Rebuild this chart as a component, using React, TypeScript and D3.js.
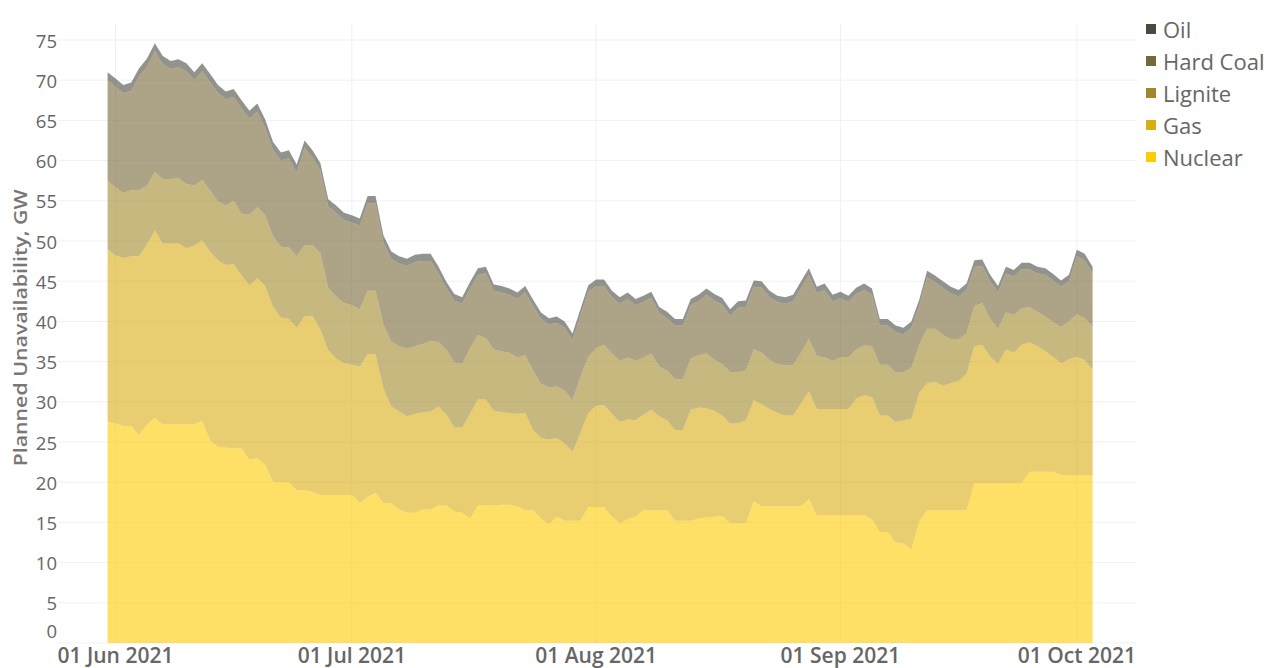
import React from "react";
import * as d3 from "d3";

const dates: Date[] = d3.timeDay.range(new Date(2021, 4, 31), new Date(2021, 9, 4));

const nuclear = [
  27.5, 27.3, 27.0, 27.0, 25.8, 27.2, 28.0, 27.2, 27.2, 27.2,
  27.2, 27.2, 27.6, 25.2, 24.4, 24.3, 24.2, 24.2, 22.8, 23.0,
  22.1, 20.0, 20.0, 20.0, 19.0, 19.0, 18.8, 18.4, 18.4, 18.4,
  18.4, 18.4, 17.4, 18.2, 18.7, 17.4, 17.4, 16.6, 16.2, 16.2,
  16.6, 16.6, 17.1, 17.1, 16.4, 16.2, 15.5, 17.1, 17.1, 17.1,
  17.2, 17.2, 17.0, 16.5, 16.5, 15.5, 14.8, 15.7, 15.2, 15.2,
  15.2, 16.9, 16.9, 16.9, 15.7, 14.9, 15.4, 15.7, 16.5, 16.5,
  16.5, 16.5, 15.2, 15.2, 15.2, 15.5, 15.6, 15.7, 15.8, 14.9,
  14.9, 14.9, 17.6, 17.0, 17.0, 17.0, 17.0, 17.0, 17.0, 17.9,
  15.9, 15.9, 15.9, 15.9, 15.9, 15.9, 15.9, 15.4, 13.8, 13.8,
  12.5, 12.4, 11.6, 15.1, 16.5, 16.5, 16.5, 16.5, 16.5, 16.5,
  19.9, 19.9, 19.9, 19.9, 19.9, 19.9, 19.9, 21.3, 21.3, 21.3,
  21.3, 20.9, 20.9, 20.9, 20.9, 20.9,
];

const gas = [
  21.5, 20.9, 20.9, 21.1, 22.3, 22.4, 23.3, 22.5, 22.5, 22.5,
  21.9, 22.2, 22.5, 23.5, 23.2, 22.7, 22.9, 21.5, 21.7, 22.4,
  22.3, 21.8, 20.5, 20.3, 20.2, 21.6, 21.9, 20.6, 18.0, 17.0,
  16.4, 16.2, 17.0, 17.7, 17.2, 14.3, 12.0, 12.2, 12.0, 12.3,
  12.1, 12.2, 12.3, 11.3, 10.4, 10.6, 13.0, 13.2, 13.2, 11.8,
  11.5, 11.4, 11.5, 12.1, 10.0, 10.0, 10.5, 9.8, 9.6, 8.6,
  10.9, 11.7, 12.6, 12.7, 12.8, 12.6, 12.4, 12.0, 11.9, 12.5,
  11.7, 11.2, 11.3, 11.3, 13.8, 13.8, 13.6, 13.2, 12.5, 12.4,
  12.4, 12.8, 12.6, 12.7, 12.1, 11.6, 11.3, 11.3, 12.8, 13.4,
  13.2, 13.2, 13.2, 13.2, 13.2, 14.5, 14.9, 15.2, 14.5, 14.5,
  15.0, 15.3, 16.3, 16.0, 15.8, 16.0, 15.5, 15.8, 16.1, 17.0,
  17.0, 17.2, 15.7, 14.8, 16.6, 16.2, 17.2, 16.1, 15.6, 15.0,
  14.3, 13.9, 14.4, 14.7, 14.3, 13.1,
];

const lignite = [
  8.5, 8.5, 8.1, 8.2, 8.2, 7.3, 7.3, 8.0, 8.0, 8.1,
  8.0, 7.5, 7.5, 7.6, 7.3, 7.4, 7.9, 7.7, 8.8, 8.8,
  8.8, 8.8, 8.8, 8.9, 8.9, 8.9, 8.8, 9.5, 7.8, 7.7,
  7.5, 7.4, 7.1, 7.9, 7.9, 7.9, 8.1, 8.1, 8.4, 8.4,
  8.5, 8.8, 8.0, 8.1, 8.1, 7.9, 8.2, 8.0, 7.6, 7.6,
  7.6, 7.5, 7.0, 7.2, 7.4, 6.7, 6.5, 6.4, 6.6, 6.4,
  7.0, 7.0, 7.2, 7.5, 7.5, 7.6, 7.7, 7.4, 7.1, 7.0,
  6.2, 6.2, 6.3, 6.3, 6.4, 6.5, 6.8, 6.3, 6.4, 6.4,
  6.4, 6.2, 6.3, 6.4, 6.1, 6.1, 6.2, 6.3, 6.3, 6.5,
  6.6, 6.4, 6.0, 6.4, 6.4, 6.1, 6.2, 6.3, 6.3, 6.3,
  6.1, 6.0, 6.3, 6.0, 6.8, 6.6, 6.3, 5.5, 5.2, 5.0,
  5.0, 5.2, 4.7, 4.4, 4.6, 4.7, 4.5, 4.4, 4.3, 4.3,
  4.3, 4.5, 4.7, 5.3, 5.2, 5.4,
];

const hardCoal = [
  12.5, 12.5, 12.4, 12.4, 14.2, 14.8, 15.0, 14.3, 13.7, 13.8,
  14.0, 13.1, 13.5, 13.5, 13.5, 13.2, 12.9, 13.1, 11.9, 11.9,
  10.9, 10.7, 10.7, 11.1, 10.4, 12.1, 10.9, 10.3, 10.1, 10.4,
  10.3, 10.3, 10.4, 10.9, 10.9, 10.2, 10.3, 10.3, 10.3, 10.5,
  10.3, 9.9, 8.6, 7.6, 7.7, 7.5, 7.4, 7.5, 8.1, 7.3,
  7.3, 7.2, 7.3, 7.8, 8.0, 8.1, 7.8, 7.9, 7.8, 7.5,
  7.6, 8.1, 7.7, 7.3, 7.0, 7.1, 7.3, 6.9, 6.9, 6.9,
  6.6, 6.5, 6.7, 6.7, 6.6, 6.7, 7.3, 7.4, 7.4, 7.0,
  8.0, 7.9, 7.8, 8.1, 7.8, 7.7, 7.7, 7.9, 8.1, 8.0,
  7.8, 8.4, 7.4, 7.4, 6.9, 6.9, 6.9, 6.4, 4.9, 4.9,
  5.1, 4.7, 5.0, 4.8, 6.4, 5.8, 5.9, 5.7, 5.3, 5.4,
  4.9, 4.6, 4.7, 4.5, 4.9, 4.8, 4.9, 4.7, 4.8, 5.2,
  5.2, 5.0, 5.0, 7.2, 7.2, 6.6,
];

const oil = [
  1.0, 1.0, 1.0, 1.0, 1.0, 1.0, 1.0, 1.0, 1.0, 1.0,
  1.0, 1.0, 1.0, 1.0, 1.0, 1.0, 1.0, 1.0, 1.0, 1.0,
  1.0, 1.0, 1.0, 1.0, 1.0, 0.9, 0.9, 0.9, 0.9, 0.9,
  0.9, 0.9, 0.9, 0.9, 0.9, 0.9, 0.9, 0.9, 0.9, 0.9,
  0.9, 0.9, 0.8, 0.8, 0.8, 0.8, 0.8, 0.8, 0.8, 0.8,
  0.8, 0.8, 0.8, 0.8, 0.8, 0.8, 0.8, 0.8, 0.8, 0.8,
  0.8, 0.8, 0.8, 0.8, 0.8, 0.8, 0.8, 0.8, 0.8, 0.8,
  0.8, 0.8, 0.8, 0.8, 0.8, 0.8, 0.8, 0.8, 0.8, 0.8,
  0.8, 0.8, 0.8, 0.8, 0.8, 0.8, 0.8, 0.8, 0.8, 0.8,
  0.8, 0.8, 0.8, 0.8, 0.8, 0.8, 0.8, 0.8, 0.8, 0.8,
  0.8, 0.8, 0.8, 0.8, 0.8, 0.8, 0.8, 0.8, 0.8, 0.8,
  0.8, 0.8, 0.8, 0.8, 0.8, 0.8, 0.8, 0.8, 0.8, 0.8,
  0.8, 0.8, 0.8, 0.8, 0.8, 0.8,
];

const seriesKeys = ["nuclear", "gas", "lignite", "hardCoal", "oil"];
const seriesNames = ["Nuclear", "Gas", "Lignite", "Hard Coal", "Oil"];
const seriesColors = ["#FFCC00", "#D9AE10", "#A0882A", "#766838", "#4B4B43"];
const yTicks = [0, 5, 10, 15, 20, 25, 30, 35, 40, 45, 50, 55, 60, 65, 70, 75];
const xTicks: Date[] = [
  new Date(2021, 5, 1), new Date(2021, 6, 1), new Date(2021, 7, 1),
  new Date(2021, 8, 1), new Date(2021, 9, 1),
];
const yTitle = "Planned Unavailability, GW";

const W = 1271;
const H = 668;
const FONT = "'Open Sans', 'DejaVu Sans', sans-serif";

export default function App() {
  const rows = dates.map((d, i) => ({
    date: d,
    nuclear: nuclear[i],
    gas: gas[i],
    lignite: lignite[i],
    hardCoal: hardCoal[i],
    oil: oil[i],
  }));
  const stacked = d3.stack<any>().keys(seriesKeys)(rows);

  const x = d3.scaleTime().domain([dates[0], dates[dates.length - 1]]).range([107.6, 1092.6]);
  const y = d3.scaleLinear().domain([0, 75]).range([643, 40]);

  const area = d3
    .area<any>()
    .x((d) => x(d.data.date))
    .y0((d) => y(d[0]))
    .y1((d) => y(d[1]))
    .curve(d3.curveLinear);

  const fmt = d3.timeFormat("%d %b %Y");
  const gridLeft = 58;
  const gridRight = 1137;

  const legendOrder = [4, 3, 2, 1, 0];

  return (
    <svg
      width={W}
      height={H}
      style={{ position: "absolute", left: 0, top: 0, background: "#fff" }}
      fontFamily={FONT}
    >
      {yTicks.map((t) => (
        <line key={"gy" + t} x1={gridLeft} x2={gridRight} y1={y(t)} y2={y(t)} stroke="#f1f1f1" strokeWidth={1} />
      ))}
      {xTicks.map((t, i) => (
        <line key={"gx" + i} x1={x(t)} x2={x(t)} y1={24} y2={y(0)} stroke="#f1f1f1" strokeWidth={1} />
      ))}
      {stacked.map((s, i) => (
        <path key={s.key} d={area(s as any) || ""} fill={seriesColors[i]} fillOpacity={0.6} />
      ))}
      {yTicks.map((t) => (
        <text
          key={"ty" + t}
          x={57}
          y={t === 0 ? y(t) - 13 : y(t)}
          textAnchor="end"
          dominantBaseline="central"
          fontSize={18.5}
          fill="#666"
        >
          {t}
        </text>
      ))}
      {xTicks.map((t, i) => (
        <text key={"tx" + i} x={x(t)} y={663} textAnchor="middle" fontSize={21} fill="#666" fontWeight={600}>
          {fmt(t)}
        </text>
      ))}
      <text
        transform={`translate(27, ${y(39.2)}) rotate(-90)`}
        textAnchor="middle"
        fontSize={18}
        fontWeight={600}
        fill="#777"
        textLength={277}
        lengthAdjust="spacingAndGlyphs"
      >
        {yTitle}
      </text>
      {legendOrder.map((k, j) => (
        <g key={"lg" + k} transform={`translate(1146, ${29 + j * 32})`}>
          <rect x={0} y={-5} width={10} height={10} fill={seriesColors[k]} />
          <text x={17} y={0} dominantBaseline="central" fontSize={22} fill="#666">
            {seriesNames[k]}
          </text>
        </g>
      ))}
    </svg>
  );
}
